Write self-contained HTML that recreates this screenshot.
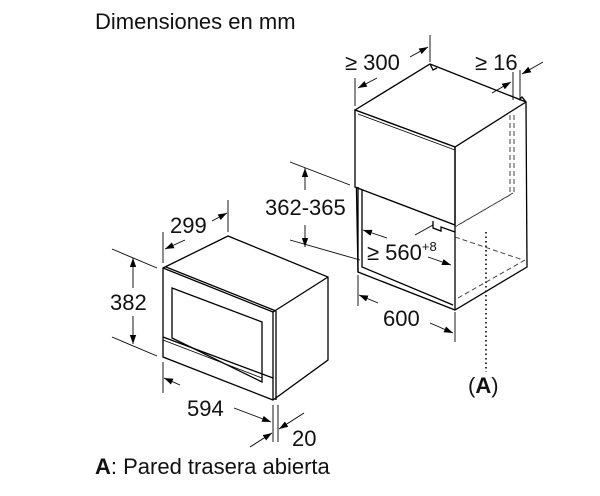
<!DOCTYPE html>
<html><head><style>
html,body{margin:0;padding:0;background:#fff}
svg{display:block}
text{font-family:"Liberation Sans",sans-serif;fill:#111}
</style></head><body>
<svg width="600" height="496" viewBox="0 0 600 496" xmlns="http://www.w3.org/2000/svg">
<defs>
<marker id="a" viewBox="0 0 10 10" refX="10" refY="5" markerWidth="9" markerHeight="9" orient="auto" markerUnits="userSpaceOnUse"><path d="M0,1.5 L10,5 L0,8.5 z" fill="#000"/></marker>
</defs>
<text x="95" y="29" font-size="22">Dimensiones en mm</text>
<text x="95" y="474" font-size="22"><tspan font-weight="bold">A</tspan>: Pared trasera abierta</text>

<g stroke="#000" fill="none" stroke-width="1.3">
<polygon points="163,268 228,236 328,277 328,360 273,400 163,357" fill="#fff"/>
<line x1="273" y1="312" x2="328" y2="277"/>
<polyline points="163,268 273,312 273,400"/>
<line x1="166" y1="267" x2="276" y2="311"/>
<line x1="276" y1="311" x2="276" y2="400"/>
<polygon points="172,288 262,322 262,382 172,338"/>
<line x1="163" y1="337" x2="273" y2="378"/>
<line x1="163" y1="340" x2="262" y2="378" stroke-width="0.8"/>

<polygon points="355,110 430,64 526,102 527,267 455,310 358,272" fill="#fff"/>
<polyline points="355,110 455,147 526,102"/>
<polygon points="355,110 455,147 455,225 355,187" fill="#fff"/>
<line x1="455" y1="147" x2="455" y2="310"/>
<line x1="358" y1="114" x2="455" y2="150" stroke-width="0.8"/>
<polyline points="358,187 358,272"/>
<polyline points="362,190 362,267 453,305"/>
<polyline points="433,221 433,228 441,231 441,227 455,232"/>
<polyline points="430,64 433,70 437,68"/>
<polyline points="519,100 522,97 526,102"/>
</g>
<g stroke="#333" fill="none" stroke-width="0.9" stroke-dasharray="5,3">
<line x1="510" y1="115" x2="510" y2="195"/>
<line x1="514" y1="115" x2="514" y2="193"/>
<line x1="513" y1="193" x2="455" y2="227"/>
<line x1="510" y1="195" x2="458" y2="225"/>
<line x1="455" y1="237" x2="523" y2="260"/>
<line x1="458" y1="298" x2="525" y2="260"/>
</g>
<line x1="486" y1="232" x2="486" y2="372" stroke="#000" stroke-width="1.6" stroke-dasharray="1.5,3"/>
<text x="468" y="393" font-size="22">(<tspan font-weight="bold">A</tspan>)</text>

<g stroke="#000" fill="none" stroke-width="0.9">
<line x1="112" y1="249" x2="157" y2="268"/>
<line x1="112" y1="337" x2="157" y2="356"/>
<line x1="133" y1="288" x2="133" y2="258" marker-end="url(#a)"/>
<line x1="133" y1="316" x2="133" y2="344" marker-end="url(#a)"/>
<line x1="163" y1="232" x2="163" y2="263"/>
<line x1="228" y1="200" x2="228" y2="232"/>
<line x1="185" y1="240" x2="165" y2="249" marker-end="url(#a)"/>
<line x1="212" y1="221" x2="227" y2="213" marker-end="url(#a)"/>
<line x1="163" y1="362" x2="163" y2="393"/>
<line x1="273" y1="405" x2="273" y2="442"/>
<line x1="180" y1="385" x2="164" y2="378" marker-end="url(#a)"/>
<line x1="234" y1="408" x2="271" y2="422" marker-end="url(#a)"/>
<line x1="278" y1="405" x2="278" y2="442"/>
<line x1="304" y1="413" x2="279" y2="429" marker-end="url(#a)"/>
<line x1="250" y1="447" x2="272" y2="433" marker-end="url(#a)"/>
<line x1="290" y1="162" x2="350" y2="185"/>
<line x1="290" y1="240" x2="360" y2="260"/>
<line x1="305" y1="190" x2="305" y2="168" marker-end="url(#a)"/>
<line x1="305" y1="225" x2="305" y2="247" marker-end="url(#a)"/>
<line x1="355" y1="78" x2="355" y2="106"/>
<line x1="430" y1="35" x2="430" y2="62"/>
<line x1="377" y1="78" x2="358" y2="88" marker-end="url(#a)"/>
<line x1="410" y1="57" x2="428" y2="47" marker-end="url(#a)"/>
<line x1="513" y1="72" x2="513" y2="100"/>
<line x1="520" y1="70" x2="520" y2="100"/>
<line x1="492" y1="93" x2="511" y2="82" marker-end="url(#a)"/>
<line x1="543" y1="62" x2="522" y2="74" marker-end="url(#a)"/>
<line x1="387" y1="238" x2="363" y2="230" marker-end="url(#a)"/>
<line x1="428" y1="257" x2="451" y2="265" marker-end="url(#a)"/>
<line x1="415" y1="235" x2="433" y2="225"/>
<line x1="358" y1="275" x2="358" y2="306"/>
<line x1="455" y1="312" x2="455" y2="342"/>
<line x1="378" y1="303" x2="359" y2="295" marker-end="url(#a)"/>
<line x1="430" y1="323" x2="453" y2="333" marker-end="url(#a)"/>
</g>
<g font-size="22">
<text x="110" y="310">382</text>
<text x="170" y="233">299</text>
<text x="187" y="416">594</text>
<text x="292" y="446">20</text>
<text x="265" y="215">362-365</text>
<text x="345" y="70">≥ 300</text>
<text x="475" y="70">≥ 16</text>
<text x="367" y="260">≥ 560<tspan font-size="13" dy="-9">+8</tspan></text>
<text x="383" y="326">600</text>
</g>
</svg>
</body></html>
